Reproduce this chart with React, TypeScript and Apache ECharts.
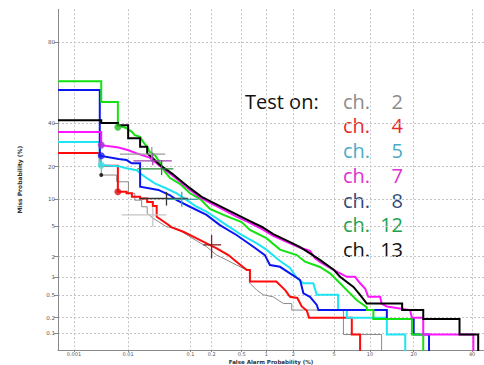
import React, { useEffect, useRef } from 'react';
import * as echarts from 'echarts';

// ---- axes (values in percent) ----
const xTicks = [0.001, 0.01, 0.1, 0.2, 0.5, 1, 2, 5, 10, 20, 40];
const xTickText = ['0.001', '0.01', '0.1', '0.2', '0.5', '1', '2', '5', '10', '20', '40'];
const yTicks = [0.1, 0.2, 0.5, 1, 2, 5, 10, 20, 40, 80];
const yTickText = ['0.1', '0.2', '0.5', '1', '2', '5', '10', '20', '40', '80'];
const xRange = [0.00048, 44.7];
const yRange = [0.046, 90];
const xTitle = 'False Alarm Probability (%)';
const yTitle = 'Miss Probability (%)';

// ---- DET curves: [false alarm %, miss %] vertices ----
const ch2 = [[0.0033, 23.4], [0.0033, 17.0], [0.0063, 17.0], [0.0063, 14.8], [0.0101, 14.8], [0.0101, 11.5], [0.013, 11.5], [0.013, 9.8], [0.017, 9.8], [0.017, 8.35], [0.021, 8.35], [0.021, 7.07], [0.026, 6.25], [0.043, 4.93], [0.062, 4.7], [0.098, 3.7], [0.17, 2.74], [0.235, 2.1], [0.32, 1.79], [0.43, 1.51], [0.58, 1.27], [0.635, 1.27], [0.635, 0.79], [0.77, 0.61], [0.92, 0.51], [1.2, 0.47], [1.56, 0.36], [1.92, 0.36], [1.92, 0.276], [6.06, 0.276], [6.06, 0.095], [12.2, 0.095], [12.2, 0.01]];
const ch4 = [[0.00048, 25.6], [0.0031, 25.6], [0.0031, 20.4], [0.0066, 20.4], [0.0066, 11.9], [0.0094, 11.9], [0.0094, 11.5], [0.0116, 11.5], [0.0116, 10.6], [0.016, 10.6], [0.016, 10.2], [0.021, 10.2], [0.021, 9.4], [0.026, 9.4], [0.026, 8.5], [0.030, 8.5], [0.030, 6.46], [0.043, 5.4], [0.052, 4.85], [0.078, 4.28], [0.123, 3.53], [0.17, 3.04], [0.235, 2.6], [0.337, 2.1], [0.43, 1.69], [0.58, 1.27], [0.635, 1.27], [0.635, 0.84], [1.3, 0.84], [1.63, 0.61], [1.84, 0.47], [2.2, 0.45], [2.44, 0.32], [2.75, 0.27], [2.9, 0.2], [7.14, 0.2], [7.14, 0.095], [8.35, 0.095], [8.35, 0.01]];
const ch5 = [[0.00048, 30.6], [0.0031, 30.6], [0.0031, 20.6], [0.0068, 20.2], [0.0094, 19.4], [0.014, 18.7], [0.016, 17.6], [0.021, 15.9], [0.028, 14.3], [0.043, 12.8], [0.062, 11.5], [0.088, 9.8], [0.123, 8.35], [0.17, 7.4], [0.32, 5.17], [0.5, 3.9], [0.77, 3.04], [1.0, 2.5], [1.43, 1.73], [1.84, 1.36], [2.17, 0.96], [2.54, 0.79], [3.19, 0.79], [3.45, 0.51], [5.44, 0.51], [5.44, 0.276], [6.48, 0.276], [6.48, 0.2], [13.3, 0.2], [13.3, 0.095], [17.7, 0.095], [17.7, 0.01]];
const ch7 = [[0.00048, 35.5], [0.0033, 35.5], [0.0033, 29.1], [0.0068, 28.0], [0.0101, 26.8], [0.014, 25.4], [0.023, 23.6], [0.034, 20.3], [0.052, 17.0], [0.07, 14.8], [0.098, 12.4], [0.145, 10.2], [0.19, 9.2], [0.26, 8.1], [0.43, 6.5], [0.635, 5.5], [0.89, 4.6], [1.2, 3.8], [1.84, 3.05], [2.35, 2.65], [2.96, 2.4], [3.3, 1.9], [3.7, 1.67], [5, 1.27], [6.48, 1.0], [7.6, 1.0], [8.35, 0.79], [9.15, 0.65], [9.7, 0.47], [11.9, 0.47], [12.2, 0.36], [13.3, 0.32], [19.0, 0.276], [19.5, 0.2], [22.8, 0.2], [22.8, 0.095], [40.5, 0.095], [40.5, 0.01]];
const ch8 = [[0.00048, 57.6], [0.0031, 57.6], [0.0031, 24.4], [0.0068, 23.0], [0.0094, 22.6], [0.0115, 21.3], [0.016, 21.3], [0.016, 13.3], [0.032, 12.4], [0.049, 11.0], [0.062, 9.8], [0.098, 8.35], [0.17, 6.8], [0.26, 5.17], [0.43, 3.9], [0.70, 2.74], [0.96, 2.1], [1.1, 1.51], [1.43, 1.42], [1.84, 1.13], [2.35, 0.89], [2.54, 0.54], [2.96, 0.47], [3.45, 0.34], [3.58, 0.276], [13.3, 0.276], [13.3, 0.19], [20, 0.19], [20, 0.095], [24.6, 0.095], [24.6, 0.01]];
const ch12 = [[0.00048, 62.2], [0.0033, 62.2], [0.0033, 51.3], [0.0066, 51.3], [0.0066, 38.9], [0.0092, 37.5], [0.0116, 35.5], [0.013, 33.9], [0.016, 33.0], [0.018, 30.6], [0.021, 28.2], [0.023, 26.1], [0.028, 24.7], [0.034, 21.4], [0.041, 18.0], [0.049, 16.0], [0.07, 14.1], [0.098, 11.5], [0.137, 10.1], [0.19, 7.9], [0.29, 6.8], [0.5, 5.6], [0.635, 4.5], [1.0, 3.55], [1.43, 2.5], [2.17, 2.1], [2.64, 1.69], [3.7, 1.41], [4.6, 1.13], [5.66, 0.79], [6.7, 0.57], [7.86, 0.41], [9.44, 0.31], [9.44, 0.276], [10.6, 0.276], [10.6, 0.19], [19.5, 0.19], [19.5, 0.095], [22.8, 0.095], [22.8, 0.01]];
const ch13 = [[0.00048, 41.5], [0.0033, 41.5], [0.0033, 40.1], [0.0066, 40.1], [0.0066, 38.9], [0.01, 38.9], [0.01, 32.3], [0.016, 32.3], [0.016, 28.3], [0.021, 28.3], [0.021, 25.4], [0.026, 23.3], [0.034, 20.6], [0.052, 17.6], [0.07, 15.3], [0.098, 12.9], [0.145, 10.6], [0.19, 9.6], [0.26, 8.5], [0.43, 6.9], [0.635, 5.76], [0.89, 4.9], [1.2, 4.0], [1.84, 3.16], [2.35, 2.7], [2.96, 2.22], [3.7, 1.79], [5, 1.27], [5.66, 1.0], [7.37, 0.69], [8.35, 0.51], [9.44, 0.36], [16.9, 0.36], [16.9, 0.276], [22.8, 0.276], [22.8, 0.19], [35.2, 0.19], [35.2, 0.095], [42.4, 0.095], [42.4, 0.01]];

const curves = [ch2, ch4, ch5, ch8, ch12, ch7, ch13];
const curveColors = ['#8a8a8a', '#ff0a0a', '#1ee4f4', '#0a16f2', '#12e212', '#ff14ff', '#000000'];
const curveWidths = [1, 2, 2, 2, 2, 2, 2];

// operating-point dots [fa %, miss %]
const dots = [[0.0066, 37.9], [0.0033, 29.1], [0.0033, 24.4], [0.0033, 20.6], [0.0033, 17.0], [0.0066, 11.9]];
const dotColors = ['#22bb22', '#a030d0', '#1a1aee', '#40e0e0', '#000000', '#dd1111'];
const dotSizes = [7, 7, 7, 7, 4, 7];

// confidence crosses [fa, miss, faLo, faHi, missLo, missHi]
const crosses = [
  [0.025, 25.1, 0.0072, 0.041, 21.8, 28.2],
  [0.026, 22.3, 0.0123, 0.052, 20.6, 25.5],
  [0.036, 19.2, 0.0144, 0.055, 17.0, 22.6],
  [0.043, 10.2, 0.016, 0.092, 8.6, 11.9],
  [0.074, 10.0, 0.045, 0.128, 8.35, 11.9],
  [0.2, 2.9, 0.153, 0.27, 1.89, 3.9],
  [0.026, 6.8, 0.0077, 0.043, 4.93, 8.35],
];
const crossColors = ['#9a9a9a', '#a040b0', '#208a30', '#333333', '#40a0a8', '#8b2020', '#c4c4c4'];

const legendNums = ['2', '4', '5', '7', '8', '12', '13'];
const legendColors = ['#8c8c8c', '#e8282a', '#4bacc6', '#e030d0', '#2f4a78', '#22a050', '#111111'];

function probit(p: number): number {
  const a = [-3.969683028665376e1, 2.209460984245205e2, -2.759285104469687e2, 1.38357751867269e2, -3.066479806614716e1, 2.506628277459239];
  const b = [-5.447609879822406e1, 1.615858368580409e2, -1.556989798598866e2, 6.680131188771972e1, -1.328068155288572e1];
  const c = [-7.784894002430293e-3, -3.223964580411365e-1, -2.400758277161838, -2.549732539343734, 4.374664141464968, 2.938163982698783];
  const d = [7.784695709041462e-3, 3.224671290700398e-1, 2.445134137142996, 3.754408661907416];
  const plow = 0.02425;
  if (p < plow) {
    const q = Math.sqrt(-2 * Math.log(p));
    return (((((c[0] * q + c[1]) * q + c[2]) * q + c[3]) * q + c[4]) * q + c[5]) / ((((d[0] * q + d[1]) * q + d[2]) * q + d[3]) * q + 1);
  }
  if (p <= 1 - plow) {
    const q = p - 0.5;
    const r = q * q;
    return ((((((a[0] * r + a[1]) * r + a[2]) * r + a[3]) * r + a[4]) * r + a[5]) * q) / (((((b[0] * r + b[1]) * r + b[2]) * r + b[3]) * r + b[4]) * r + 1);
  }
  const q = Math.sqrt(-2 * Math.log(1 - p));
  return -(((((c[0] * q + c[1]) * q + c[2]) * q + c[3]) * q + c[4]) * q + c[5]) / ((((d[0] * q + d[1]) * q + d[2]) * q + d[3]) * q + 1);
}
const P = (pct: number) => probit(pct / 100);

function buildOption() {
  const xTP = xTicks.map(P);
  const yTP = yTicks.map(P);
  const fmt = (tp: number[], txt: string[]) => (v: number) => {
    const i = tp.findIndex((t) => Math.abs(t - v) < 1e-6);
    return i >= 0 ? txt[i] : '';
  };
  const gridLine = { show: true, lineStyle: { color: '#c4c4c4', type: [2, 2] as any, width: 1 } };
  const axisLabelStyle = { fontSize: 5, color: '#555', fontFamily: 'DejaVu Sans' };

  const lineSeries = curves.map((c, i) => ({
    type: 'line',
    data: c.map(([fa, m]) => [P(fa), P(m)]),
    symbol: 'none',
    silent: true,
    clip: true,
    z: 2 + i,
    lineStyle: { color: curveColors[i], width: curveWidths[i], join: 'miter' },
  }));

  const legendFont = { fontSize: 20, fontFamily: 'Open Sans', verticalAlign: 'middle' };
  const graphics: any[] = [
    { type: 'text', x: 245, y: 101, style: { text: 'Test on:', fill: '#111', align: 'left', ...legendFont } },
    { type: 'text', x: 271, y: 361.5, style: { text: xTitle, fill: '#333', fontSize: 5.5, fontWeight: 'bold', fontFamily: 'DejaVu Sans', align: 'center', verticalAlign: 'middle' } },
  ];
  legendNums.forEach((n, i) => {
    const y = 101 + i * 24.75;
    graphics.push({ type: 'text', x: 343, y, style: { text: 'ch.', fill: legendColors[i], align: 'left', ...legendFont } });
    graphics.push({ type: 'text', x: 403, y, style: { text: n, fill: legendColors[i], align: 'right', ...legendFont } });
  });

  return {
    animation: false,
    backgroundColor: '#fff',
    grid: { left: 58, right: 0, top: 9.3, bottom: 15, containLabel: false, outerBoundsMode: 'none' },
    xAxis: {
      type: 'value',
      min: P(xRange[0]),
      max: P(xRange[1]),
      axisLine: { show: true, onZero: false, lineStyle: { color: '#8a8a8a', width: 1 } },
      axisTick: { show: true, customValues: xTP, length: 2, lineStyle: { color: '#8a8a8a' } },
      axisLabel: { customValues: xTP, formatter: fmt(xTP, xTickText), margin: 1.5, ...axisLabelStyle },
      splitLine: gridLine,
    },
    yAxis: {
      type: 'value',
      min: P(yRange[0]),
      max: P(yRange[1]),
      name: yTitle,
      nameLocation: 'middle',
      nameGap: 36,
      nameTextStyle: { fontSize: 6, color: '#333', fontWeight: 'bold', fontFamily: 'DejaVu Sans' },
      axisLine: { show: true, onZero: false, lineStyle: { color: '#8a8a8a', width: 1 } },
      axisTick: { show: true, customValues: yTP, length: 4, lineStyle: { color: '#8a8a8a' } },
      axisLabel: { customValues: yTP, formatter: fmt(yTP, yTickText), margin: 3, fontSize: 5.5, color: '#555', fontFamily: 'DejaVu Sans' },
      splitLine: gridLine,
    },
    series: [
      ...lineSeries,
      {
        type: 'custom',
        z: 20,
        silent: true,
        data: crosses.map((c) => c.map((v) => P(v))),
        encode: { x: [0, 2, 3], y: [1, 4, 5] },
        renderItem: (params: any, api: any) => {
          const cx = api.value(0), cy = api.value(1);
          const pL = api.coord([api.value(2), cy]);
          const pR = api.coord([api.value(3), cy]);
          const pB = api.coord([cx, api.value(4)]);
          const pT = api.coord([cx, api.value(5)]);
          const color = crossColors[params.dataIndex];
          return {
            type: 'group',
            children: [
              { type: 'line', shape: { x1: pL[0], y1: pL[1], x2: pR[0], y2: pR[1] }, style: { stroke: color, lineWidth: 1.3 } },
              { type: 'line', shape: { x1: pB[0], y1: pB[1], x2: pT[0], y2: pT[1] }, style: { stroke: color, lineWidth: 1.3 } },
            ],
          };
        },
      },
      {
        type: 'scatter',
        z: 21,
        silent: true,
        data: dots.map(([fa, m], i) => ({
          value: [P(fa), P(m)],
          symbolSize: dotSizes[i],
          itemStyle: { color: dotColors[i] },
        })),
      },
    ],
    graphic: graphics,
  };
}

export default function App() {
  const ref = useRef<HTMLDivElement>(null);
  useEffect(() => {
    if (!ref.current) return;
    const chart = echarts.init(ref.current, null, { renderer: 'svg' });
    chart.setOption(buildOption() as any);
    return () => chart.dispose();
  }, []);
  return <div ref={ref} style={{ position: 'fixed', left: 0, top: 0, width: 484, height: 365, background: '#fff' }} />;
}
